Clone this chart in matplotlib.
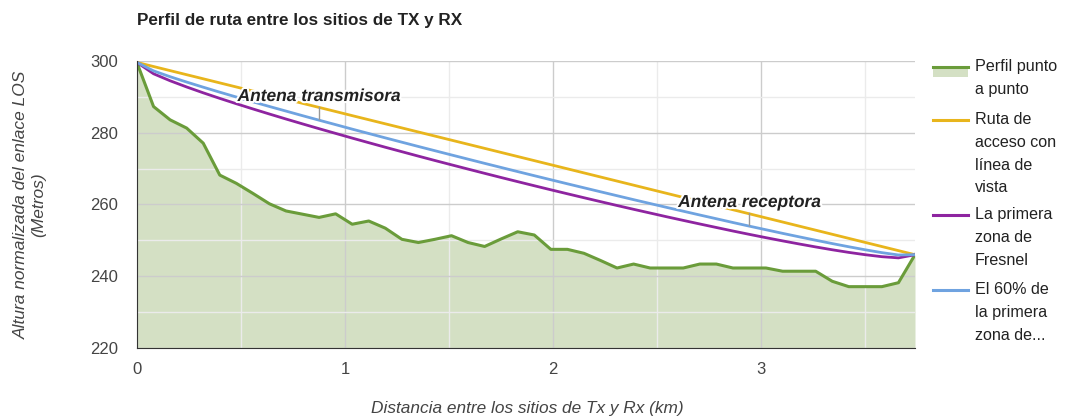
import matplotlib
matplotlib.use("Agg")
import matplotlib.pyplot as plt
from matplotlib.lines import Line2D
from matplotlib.patches import Rectangle
import matplotlib.patheffects as pe
import numpy as np

plt.rcParams['font.family'] = ['Liberation Sans', 'DejaVu Sans']

# ---- data ----
total_km = 3.74
n_pts = 48
distance_km = [total_km * i / (n_pts - 1) for i in range(n_pts)]

profile = [299.5, 287.3, 283.6, 281.3, 277.1, 268.2, 265.9, 263.1, 260.2, 258.2,
           257.3, 256.4, 257.4, 254.5, 255.4, 253.4, 250.3, 249.4, 250.3, 251.3,
           249.4, 248.3, 250.4, 252.4, 251.5, 247.5, 247.5, 246.4, 244.4, 242.3,
           243.4, 242.3, 242.3, 242.3, 243.4, 243.4, 242.3, 242.3, 242.3, 241.4,
           241.4, 241.4, 238.6, 237.1, 237.1, 237.1, 238.2, 246.0]

los = [299.60, 298.46, 297.32, 296.18, 295.04, 293.90, 292.76, 291.62, 290.48, 289.34,
       288.20, 287.06, 285.92, 284.77, 283.63, 282.49, 281.35, 280.21, 279.07, 277.93,
       276.79, 275.65, 274.51, 273.37, 272.23, 271.09, 269.95, 268.81, 267.67, 266.53,
       265.39, 264.25, 263.11, 261.97, 260.83, 259.69, 258.54, 257.40, 256.26, 255.12,
       253.98, 252.84, 251.70, 250.56, 249.42, 248.28, 247.14, 246.00]

fresnel = [299.60, 296.44, 294.49, 292.76, 291.13, 289.58, 288.09, 286.64, 285.22, 283.83,
           282.47, 281.13, 279.82, 278.51, 277.23, 275.96, 274.72, 273.48, 272.26, 271.06,
           269.87, 268.69, 267.52, 266.37, 265.23, 264.10, 262.99, 261.89, 260.80, 259.72,
           258.66, 257.62, 256.58, 255.57, 254.57, 253.59, 252.61, 251.67, 250.75, 249.86,
           249.00, 248.17, 247.38, 246.65, 246.00, 245.45, 245.12, 246.00]

fresnel60 = [299.60, 297.25, 295.62, 294.13, 292.70, 291.31, 289.96, 288.63, 287.32, 286.04,
             284.76, 283.50, 282.26, 281.01, 279.79, 278.57, 277.37, 276.17, 274.99, 273.81,
             272.64, 271.47, 270.32, 269.17, 268.03, 266.90, 265.77, 264.66, 263.55, 262.45,
             261.35, 260.27, 259.19, 258.13, 257.07, 256.03, 254.98, 253.96, 252.96, 251.96,
             250.99, 250.04, 249.11, 248.22, 247.37, 246.58, 245.93, 246.00]

annotations = [(11, "Antena transmisora"), (37, "Antena receptora")]

legend_labels = [["Perfil punto", "a punto"],
                 ["Ruta de", "acceso con", "línea de", "vista"],
                 ["La primera", "zona de", "Fresnel"],
                 ["El 60% de", "la primera", "zona de..."]]

title = "Perfil de ruta entre los sitios de TX y RX"
xlabel = "Distancia entre los sitios de Tx y Rx (km)"
ylabel = "Altura normalizada del enlace LOS\n(Metros)"

# ---- styles ----
c_green = "#6a9c3a"
c_fill = "#d4e0c4"
c_yellow = "#e8b51c"
c_purple = "#8e24a0"
c_blue = "#6fa3e0"

W, H = 1065, 417
fig = plt.figure(figsize=(W / 100, H / 100), dpi=100)
ax = fig.add_axes([137 / W, 1 - 348 / H, (915 - 137) / W, (348 - 61) / H])

ax.fill_between(distance_km, profile, 220, color=c_fill, lw=0, zorder=1)
ax.plot(distance_km, profile, color=c_green, lw=2.2, zorder=3)
ax.plot(distance_km, los, color=c_yellow, lw=2.0, zorder=3)
ax.plot(distance_km, fresnel, color=c_purple, lw=2.0, zorder=4)
ax.plot(distance_km, fresnel60, color=c_blue, lw=2.0, zorder=4)

ax.set_xlim(0, total_km)
ax.set_ylim(220, 300)
ax.set_xticks([0, 1, 2, 3])
ax.set_xticks([0.5, 1.5, 2.5, 3.5], minor=True)
ax.set_yticks([220, 240, 260, 280, 300])
ax.set_yticks([230, 250, 270, 290], minor=True)
ax.grid(True, which='major', color='#cccccc', lw=1.0, zorder=2)
ax.grid(True, which='minor', color='#ebebeb', lw=1.0, zorder=2)
ax.set_axisbelow(False)
for s in ['top', 'right']:
    ax.spines[s].set_visible(False)
ax.spines['left'].set_color('#333333')
ax.spines['bottom'].set_color('#333333')
ax.spines['left'].set_zorder(5)
ax.spines['bottom'].set_zorder(5)
ax.tick_params(which='both', length=0)
ax.tick_params(axis='y', pad=13.5, labelsize=12, labelcolor='#444444')
ax.tick_params(axis='x', pad=10, labelsize=12, labelcolor='#444444')

halo = [pe.withStroke(linewidth=3, foreground='white')]
for idx, txt in annotations:
    x = distance_km[idx]
    y = fresnel60[idx]
    ax.plot([x, x], [y + 0.2, y + 3.7], color='#999999', lw=1, zorder=6)
    ax.text(x, y + 6.6, txt, ha='center', va='center', fontsize=12.5,
            fontstyle='italic', fontweight='bold', color='#222222',
            path_effects=halo, zorder=7)

fig.text(137 / W, 1 - 20 / H, title, ha='left', va='center', fontsize=12.3,
         fontweight='bold', color='#222222')
fig.text(527 / W, 1 - 408 / H, xlabel, ha='center', va='center', fontsize=12.4,
         fontstyle='italic', color='#444444')
fig.text(30 / W, 1 - 205 / H, ylabel, ha='center', va='center', fontsize=12.5,
         fontstyle='italic', color='#444444', rotation=90, linespacing=1.15)

# ---- legend ----
colors = [c_green, c_yellow, c_purple, c_blue]
starts = [67, 120, 215, 290]
line_h = 22.6
for lbls, col, y0 in zip(legend_labels, colors, starts):
    yf = 1 - y0 / H
    if col == c_green:
        fig.patches.append(Rectangle((933 / W, 1 - 77 / H), 35 / W, 10 / H,
                                     transform=fig.transFigure, color=c_fill, lw=0))
    fig.lines.append(Line2D([933 / W, 968 / W], [yf, yf], transform=fig.transFigure,
                            color=col, lw=2.2))
    for k, t in enumerate(lbls):
        fig.text(975 / W, 1 - (y0 + k * line_h) / H, t, ha='left', va='center',
                 fontsize=11.6, color='#222222')

fig.savefig("out.png", dpi=100)
